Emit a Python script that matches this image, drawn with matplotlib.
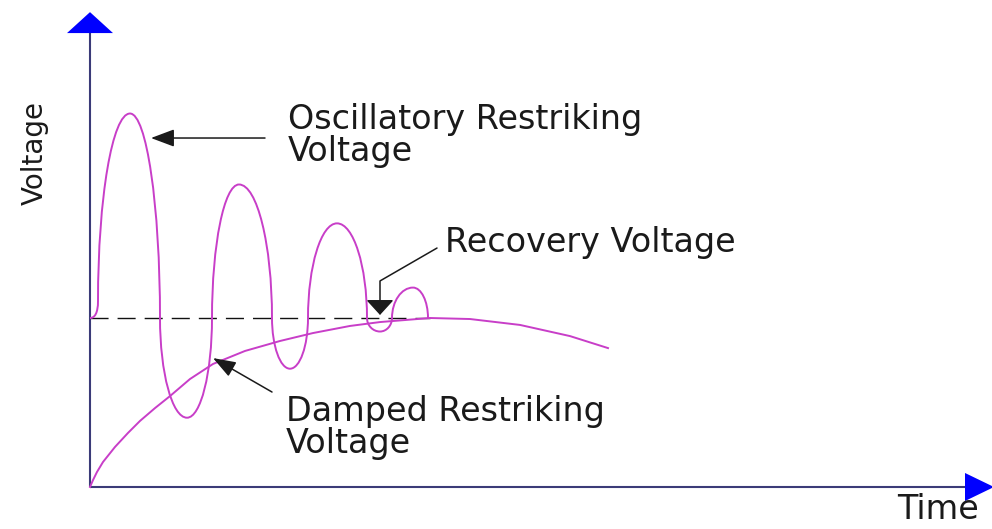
import numpy as np
import matplotlib.pyplot as plt
from matplotlib.path import Path
from matplotlib.patches import PathPatch, Polygon

# Time in arbitrary units, voltage per unit of the recovery voltage
recovery_v = 1.0
recovery_end_t = 34.0

# Oscillatory restriking voltage: start, then alternating crossings / extremes
osc_start = (0.0, 1.0)
swing_t = [0.8, 4.0, 7.0, 9.7, 12.2, 14.9, 18.2, 20.0, 21.8, 24.7, 27.7, 29.0, 30.2, 32.3, 33.8]
swing_v = [1.10, 2.21, 1.0, 0.41, 1.0, 1.79, 1.0, 0.70, 1.0, 1.56, 1.0, 0.92, 1.0, 1.18, 1.0]

# Damped restriking voltage
damped_t = [0.0, 0.3, 0.7, 1.3, 2.5, 3.8, 5.0, 6.5, 8.0, 10.0, 12.3, 15.5, 19.0,
			22.3, 26.0, 29.0, 34.0, 38.0, 43.0, 48.0, 51.8]
damped_v = [0.0, 0.041, 0.089, 0.148, 0.237, 0.320, 0.391, 0.467, 0.538, 0.639, 0.728,
			0.805, 0.864, 0.911, 0.953, 0.976, 1.0, 0.994, 0.959, 0.893, 0.822]

labels = ['Oscillatory Restriking\nVoltage', 'Recovery Voltage',
		  'Damped Restriking\nVoltage']
xlabel = 'Time'
ylabel = 'Voltage'


def swing_path(start, ts, vs, k=0.55):
	# cubic segments: vertical tangent at the crossings, flat at the extremes
	verts = [start]
	codes = [Path.MOVETO]
	t0, v0 = start
	verts += [(t0 + 0.6 * (ts[0] - t0), v0), (ts[0], v0 + 0.3 * (vs[0] - v0)), (ts[0], vs[0])]
	codes += [Path.CURVE4] * 3
	for i in range(len(ts) - 1):
		ta, va, tb, vb = ts[i], vs[i], ts[i + 1], vs[i + 1]
		if i % 2 == 0:
			c1 = (ta, va + k * (vb - va))
			c2 = (tb - k * (tb - ta), vb)
		else:
			c1 = (ta + k * (tb - ta), va)
			c2 = (tb, vb + k * (va - vb))
		verts += [c1, c2, (tb, vb)]
		codes += [Path.CURVE4] * 3
	return Path(verts, codes)


def main():
	rc_update = {'font.family': 'DejaVu Sans', 'font.size': 24}
	plt.rcParams.update(rc_update)

	curve_color = '#c83ec8'
	axis_color = '#3b3b78'
	text_color = '#1a1a1a'
	arrow_color = '#1a1a1a'

	fig = plt.figure(figsize=(9.92, 5.29), dpi=100)
	ax = fig.add_axes([0, 0, 1, 1])
	ax.set_xlim(-9.0, 90.2)
	ax.set_ylim(-0.2485, 2.8817)
	ax.axis('off')

	# Axes with blue arrow heads
	x_end, y_end = 87.5, 2.686
	ax.plot([0, x_end], [0, 0], color=axis_color, lw=1.5, solid_capstyle='butt', zorder=2)
	ax.plot([0, 0], [0, y_end], color=axis_color, lw=1.5, solid_capstyle='butt', zorder=2)
	ax.add_patch(Polygon([(-2.3, y_end), (2.3, y_end), (0, 2.81)], closed=True,
						 facecolor='#0000ff', edgecolor='none', zorder=3))
	ax.add_patch(Polygon([(x_end, 0.083), (x_end, -0.083), (90.4, 0)], closed=True,
						 facecolor='#0000ff', edgecolor='none', zorder=3))

	# Recovery voltage level
	ax.plot([0, recovery_end_t], [recovery_v, recovery_v], color='#111111', lw=1.0,
			dashes=(13, 6.5), zorder=1)

	# Restriking voltages
	ax.plot(damped_t, damped_v, color=curve_color, lw=1.4, zorder=2)
	ax.add_patch(PathPatch(swing_path(osc_start, swing_t, swing_v), fill=False,
						   edgecolor=curve_color, lw=1.4, zorder=2))

	# Labels and pointers
	osc_lines = labels[0].split('\n')
	damp_lines = labels[2].split('\n')
	ax.text(19.8, 2.118, osc_lines[0], color=text_color, va='baseline')
	ax.text(19.8, 1.929, osc_lines[1], color=text_color, va='baseline')
	ax.text(35.5, 1.391, labels[1], color=text_color, va='baseline')
	ax.text(19.6, 0.391, damp_lines[0], color=text_color, va='baseline')
	ax.text(19.6, 0.201, damp_lines[1], color=text_color, va='baseline')
	ax.text(80.7, -0.189, xlabel, color=text_color, va='baseline')
	ax.text(-4.7, 1.669, ylabel, color=text_color, fontsize=20, rotation=90,
			rotation_mode='anchor', ha='left', va='baseline')

	ax.annotate('', xy=(6.1, 2.065), xytext=(17.5, 2.065),
				arrowprops=dict(arrowstyle='-|>,head_length=1.44,head_width=0.54',
								mutation_scale=10, color=arrow_color, lw=1.1,
								shrinkA=0, shrinkB=0))
	ax.annotate('', xy=(29.0, 1.018), xytext=(34.7, 1.414),
				arrowprops=dict(arrowstyle='-|>,head_length=0.94,head_width=0.86',
								mutation_scale=10, color=arrow_color, lw=1.1,
								connectionstyle='angle,angleA=30,angleB=90,rad=0',
								shrinkA=0, shrinkB=0))
	ax.annotate('', xy=(12.3, 0.763), xytext=(18.2, 0.562),
				arrowprops=dict(arrowstyle='-|>,head_length=1.4,head_width=0.5',
								mutation_scale=10, color=arrow_color, lw=1.1,
								shrinkA=0, shrinkB=0))

	plt.savefig('out.png', dpi=100)


if __name__ == '__main__':
	main()
